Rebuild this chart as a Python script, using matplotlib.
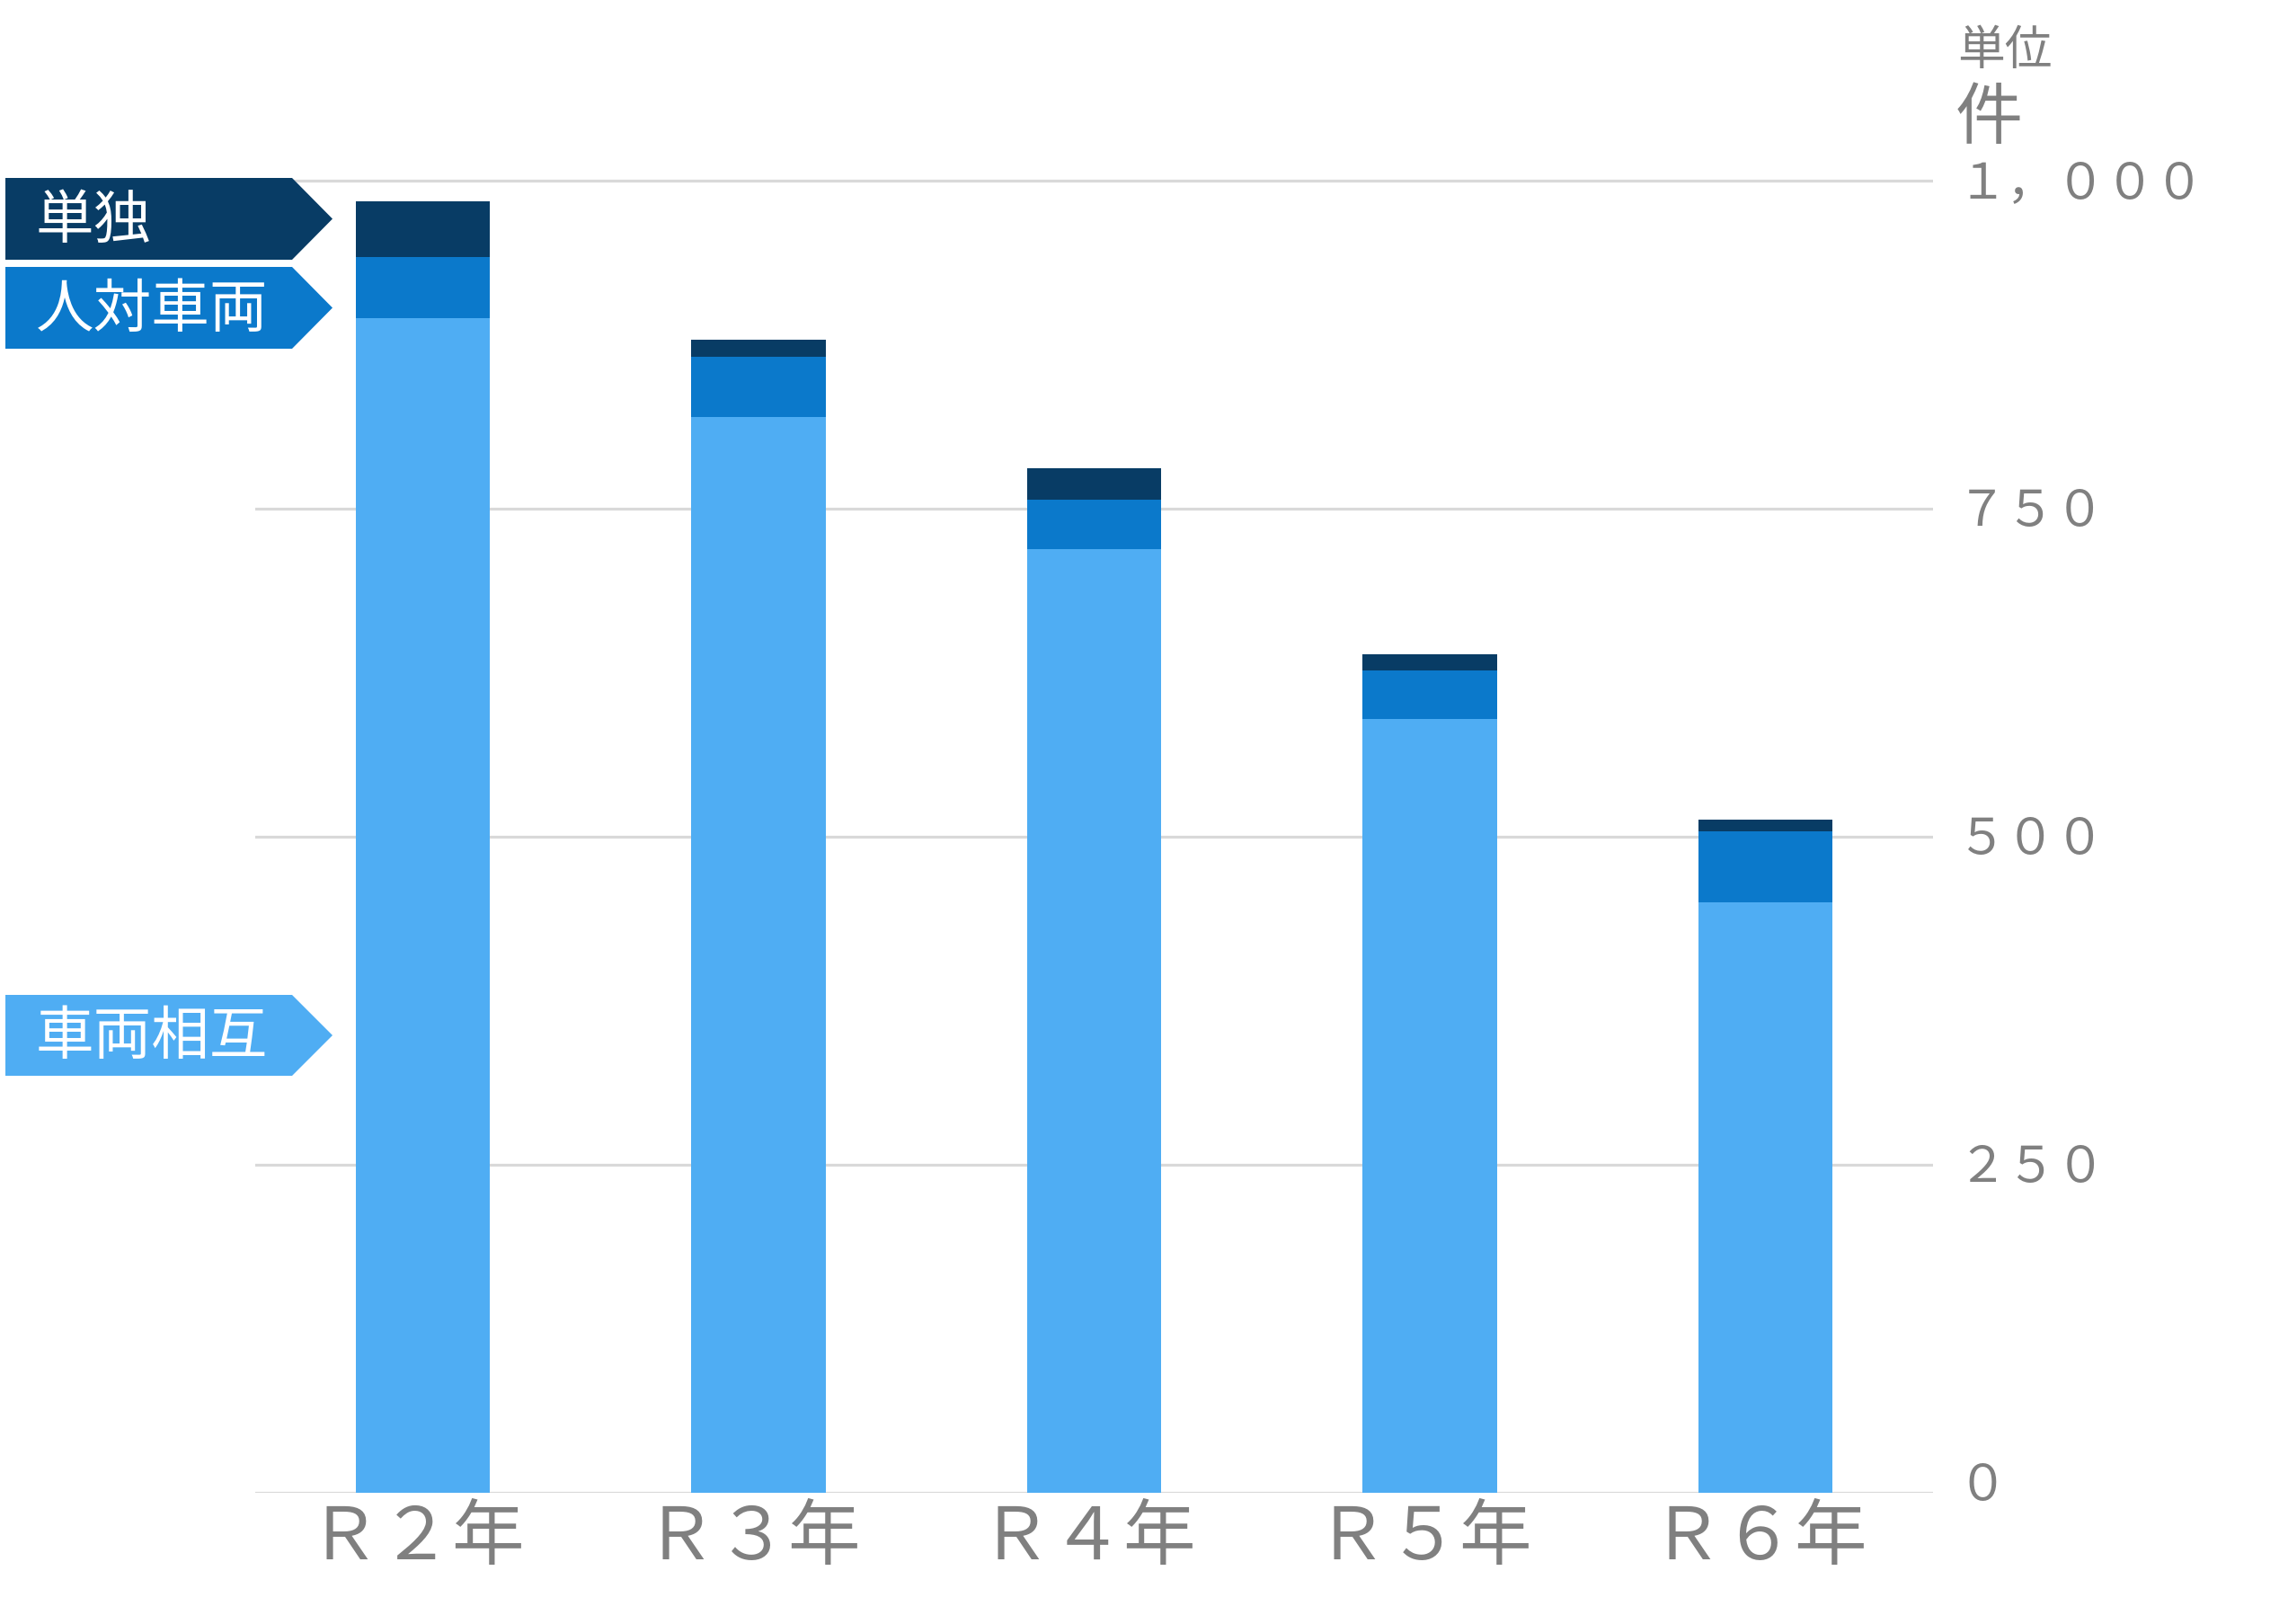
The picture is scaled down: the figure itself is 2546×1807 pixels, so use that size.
import matplotlib
matplotlib.use("Agg")
import matplotlib.pyplot as plt
from matplotlib.patches import Polygon
from matplotlib.transforms import blended_transform_factory, ScaledTranslation
import numpy as np

plt.rcParams['font.family'] = ['Noto Sans CJK JP', 'DejaVu Sans']

categories = ["Ｒ２年", "Ｒ３年", "Ｒ４年", "Ｒ５年", "Ｒ６年"]
vehicle_mutual = [895, 820, 719, 590, 450]   # 車両相互
person_vehicle = [47, 46, 38, 37, 54]        # 人対車両
single = [42, 13, 24, 12, 9]                 # 単独
ytick_vals = [0, 250, 500, 750, 1000]
ytick_labels = ["０", "２５０", "５００", "７５０", "１，０００"]
series_names = ["単独", "人対車両", "車両相互"]

c_light = "#4FADF3"
c_mid = "#0B79CB"
c_dark = "#083C65"
gray = "#808080"
grid_c = "#D9D9D9"

W, H = 2546, 1808
fig = plt.figure(figsize=(W / 100, H / 100), dpi=100)

def fx(px):
    return px / W

def fy(py):
    return 1 - py / H

# axes: left 284, right 2151, bottom 1662, ylim 0..1050 with 1.46 px/unit
ax_left, ax_right, ax_bottom = 284, 2151, 1662
ymax = 1050
ax_top = ax_bottom - 1.46 * ymax
ax = fig.add_axes([fx(ax_left), fy(ax_bottom), fx(ax_right - ax_left), (ax_bottom - ax_top) / H])

x = np.arange(len(categories))
bw = 0.4
b1 = np.array(vehicle_mutual)
b2 = b1 + np.array(person_vehicle)
ax.bar(x, vehicle_mutual, width=bw, color=c_light, zorder=3)
ax.bar(x, person_vehicle, width=bw, bottom=b1, color=c_mid, zorder=3)
ax.bar(x, single, width=bw, bottom=b2, color=c_dark, zorder=3)

ax.set_xlim(-0.5, len(categories) - 0.5)
ax.set_ylim(0, ymax)
for v in ytick_vals:
    ax.axhline(v, color=grid_c, lw=2.3, zorder=1)

for s in ax.spines.values():
    s.set_visible(False)

ax.set_xticks(x)
ax.set_xticklabels(categories, fontsize=58, color=gray)
ax.tick_params(axis='x', length=0, pad=6)
for lbl in ax.get_xticklabels():
    lbl.set_transform(lbl.get_transform() + ScaledTranslation(-7 / 100, 0, fig.dpi_scale_trans))
ax.set_yticks([])

# right-side value labels
trans = blended_transform_factory(ax.transAxes, ax.transData)
for v, lab in zip(ytick_vals, ytick_labels):
    up = 9 if v == 0 else -2
    t = trans + ScaledTranslation(27 / 100, up / 100, fig.dpi_scale_trans)
    ax.text(1.0, v, lab, transform=t, fontsize=39.5, color=gray,
            ha='left', va='center', clip_on=False)

# unit labels
fig.text(fx(2178), fy(56), "単位", fontsize=38, color=gray, ha='left', va='center')
fig.text(fx(2176), fy(132), "件", fontsize=54, color=gray, ha='left', va='center')

# arrow-shaped legend labels
def arrow_label(y0, y1, text, color):
    xl, xr, xt = 6, 325, 370
    yc = (y0 + y1) / 2
    pts = [(fx(xl), fy(y0)), (fx(xr), fy(y0)), (fx(xt), fy(yc)),
           (fx(xr), fy(y1)), (fx(xl), fy(y1))]
    fig.add_artist(Polygon(pts, closed=True, transform=fig.transFigure,
                           facecolor=color, edgecolor='none'))
    fig.text(fx(40), fy(yc + 2), text, fontsize=46.5, color='white', ha='left', va='center')

arrow_label(199, 290, series_names[0], c_dark)
arrow_label(298, 389, series_names[1], c_mid)
arrow_label(1108, 1198, series_names[2], c_light)

fig.savefig("out.png", dpi=100, facecolor='white')
